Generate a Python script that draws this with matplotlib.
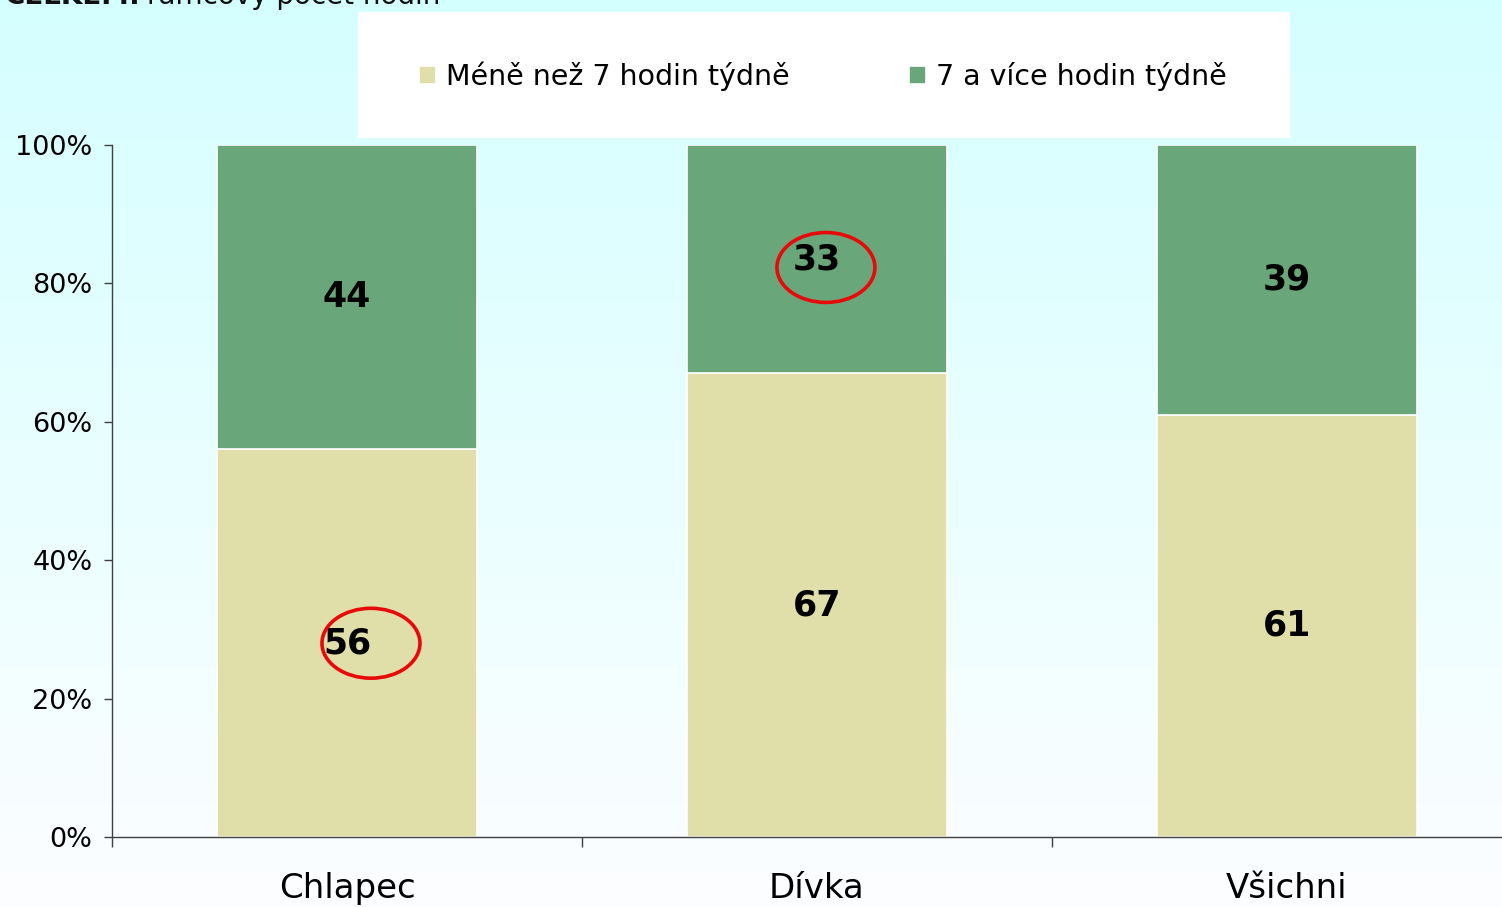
import matplotlib.pyplot as plt
import numpy as np
from matplotlib.patches import Ellipse, Rectangle

# data
categories = ['Chlapec', 'Dívka', 'Všichni']
mene_7 = [56, 67, 61]
vice_7 = [44, 33, 39]
series_names = ['Méně než 7 hodin týdně', '7 a více hodin týdně']
colors = ['#E0DFA9', '#69A77A']
highlight = [(0, 'mene'), (1, 'vice')]  # circled values

W, H = 1502, 907
fig = plt.figure(figsize=(W / 100, H / 100), dpi=100)

# background gradient (light cyan -> white)
bg = fig.add_axes([0, 0, 1, 1], zorder=-10)
grad = np.linspace(0, 1, 256).reshape(-1, 1)
top = np.array([0.835, 1.0, 1.0])
bot = np.array([0.99, 0.995, 1.0])
img = top + (bot - top) * grad
bg.imshow(img.reshape(256, 1, 3), aspect='auto', extent=[0, 1, 0, 1])
bg.axis('off')

# clipped title at the very top (cut off in the original as well)
t1 = fig.text(5 / W, 1 - 4 / H, 'CELKEM:', fontsize=20, fontweight='bold', va='baseline', color='#111111')
r = fig.canvas.get_renderer()
x_end = t1.get_window_extent(r).x1
fig.text(x_end / W + 6 / W, 1 - 4 / H, 'rámcový počet hodin', fontsize=20, va='baseline', color='#111111')

# axes: x from -0.5..2.5 spanning 112..1522 px
ax = fig.add_axes([112 / W, (H - 837) / H, 1410 / W, (837 - 145) / H])
ax.patch.set_alpha(0)
x = np.arange(len(categories))
bw = 260 / 470
b1 = ax.bar(x, mene_7, width=bw, color=colors[0], edgecolor='white', linewidth=1.2, label=series_names[0])
b2 = ax.bar(x, vice_7, width=bw, bottom=mene_7, color=colors[1], edgecolor='white', linewidth=1.2, label=series_names[1])

for i in range(len(categories)):
    ax.text(x[i], mene_7[i] / 2, str(mene_7[i]), ha='center', va='center', fontsize=25, fontweight='bold')
    ax.text(x[i], mene_7[i] + vice_7[i] / 2, str(vice_7[i]), ha='center', va='center', fontsize=25, fontweight='bold')

# red circles
for i, which in highlight:
    if which == 'mene':
        yc, dx = mene_7[i] / 2, 0.051
    else:
        yc, dx = mene_7[i] + vice_7[i] / 2 - 1.2, 0.019
    ax.add_patch(Ellipse((x[i] + dx, yc), 0.2085, 10.1, fill=False, edgecolor='#E8090B', linewidth=2.6, zorder=5))

ax.set_xlim(-0.5, 2.5)
ax.set_ylim(0, 100)
ax.set_yticks([0, 20, 40, 60, 80, 100])
ax.set_yticklabels([f'{v}%' for v in [0, 20, 40, 60, 80, 100]], fontsize=19.5)
ax.tick_params(axis='y', length=6, width=1, color='#404040', pad=8)

ax.set_xticks([-0.5, 0.5, 1.5, 2.5])
ax.set_xticklabels([])
ax.tick_params(axis='x', which='major', length=7.5, width=1, color='#404040')
ax.set_xticks(x, minor=True)
ax.set_xticklabels(categories, minor=True, fontsize=24.5)
ax.tick_params(axis='x', which='minor', length=0, pad=25)

for s in ['top', 'right']:
    ax.spines[s].set_visible(False)
for s in ['left', 'bottom']:
    ax.spines[s].set_color('#404040')
    ax.spines[s].set_linewidth(1)

# legend box
fig.add_artist(Rectangle((358 / W, 1 - 138 / H), (1290 - 358) / W, 126 / H,
                         transform=fig.transFigure, facecolor='white', edgecolor='none', zorder=1))
leg = fig.legend(handles=[b1, b2], labels=series_names, ncol=2, loc='center',
                 bbox_to_anchor=(823 / W, 1 - 76 / H), frameon=False, fontsize=20.5,
                 handlelength=0.6, handleheight=0.6, handletextpad=0.35, columnspacing=4.2)
leg.set_zorder(2)

fig.savefig('out.png', dpi=100)
